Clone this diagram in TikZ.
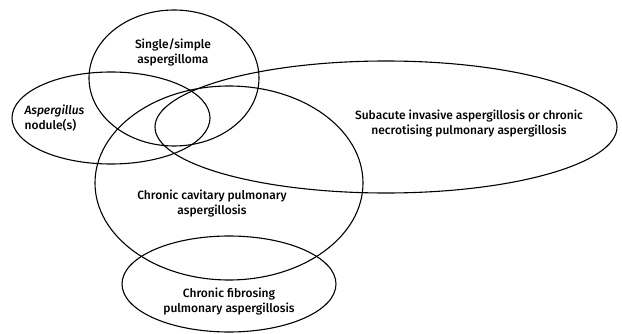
\documentclass[tikz,border=0pt]{standalone}
\usepackage{fontspec}
\setmainfont{Fira Sans}[BoldFont={Fira Sans Medium},BoldItalicFont={Fira Sans Medium Italic}]
\usetikzlibrary{shapes.geometric}
\begin{document}
\begin{tikzpicture}[x=1pt,y=-1pt,
  set/.style={draw,ellipse,inner sep=0pt,line width=1.1pt},
  lbl/.style={font=\fontsize{12}{15}\selectfont\bfseries,align=center}]
\useasboundingbox (0,0) rectangle (622,334);

\node[set,minimum width=170pt,minimum height=136pt] (single) at (174,78) {};
\node[set,minimum width=198pt,minimum height=92pt] (nodule) at (111,118) {};
\node[set,minimum width=462pt,minimum height=132pt] (subacute) at (386,127) {};
\node[set,minimum width=268pt,minimum height=194pt] (cavitary) at (229,183) {};
\node[set,minimum width=214pt,minimum height=96pt] (fibrosing) at (229,284) {};

\node[lbl] (singletxt) at (173,52) {Single/simple\\aspergilloma};
\node[lbl,align=left,anchor=west] (nodtxt) at (21,118) {\textit{Aspergillus}\\nodule(s)};
\node[lbl] (subtxt) at (469,124) {Subacute invasive aspergillosis or chronic\\necrotising pulmonary aspergillosis};
\node[lbl] (cavtxt) at (212,204) {Chronic cavitary pulmonary\\aspergillosis};
\node[lbl] (fibtxt) at (229,302) {Chronic fibrosing\\pulmonary aspergillosis};
\end{tikzpicture}
\end{document}
